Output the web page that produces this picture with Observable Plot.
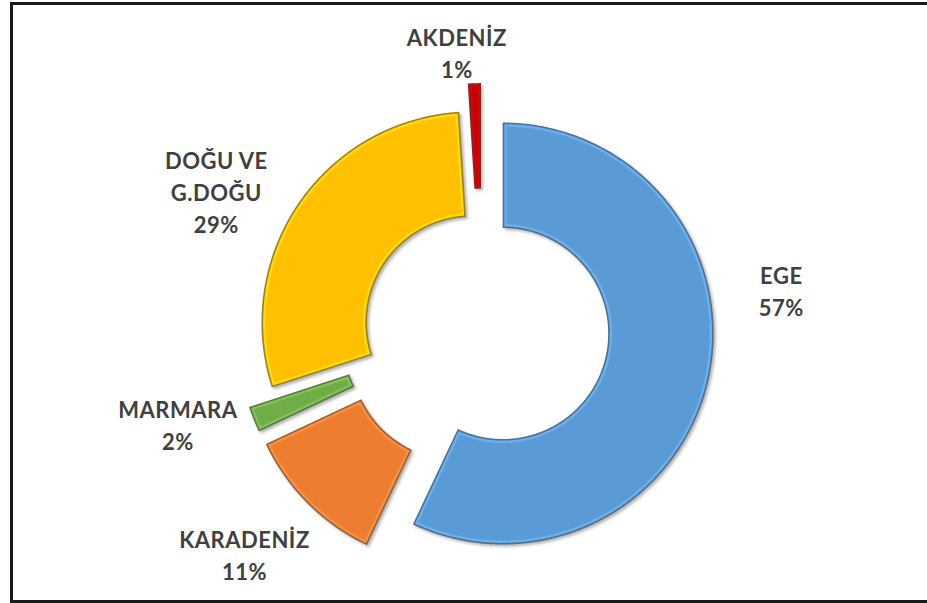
<!DOCTYPE html>
<html>
<head>
<meta charset="utf-8">
<script src="https://cdn.jsdelivr.net/npm/d3@7"></script>
<script src="https://cdn.jsdelivr.net/npm/@observablehq/plot@0.6"></script>
<style>
  html, body { margin: 0; padding: 0; background: #fff; overflow: hidden; }
  #wrap { position: relative; width: 927px; height: 603px; overflow: hidden; background: #fff; }
  .edge { position: absolute; background: #1a1a1a; pointer-events: none; }
  #edgeTop { left: 10px; top: 2px; width: 917px; height: 3px; }
  #edgeLeft { left: 10px; top: 2px; width: 3px; height: 601px; }
  #edgeBottom { left: 10px; top: 600px; width: 917px; height: 3px; }
  #chart { position: absolute; left: 0; top: 0; }
  #chart svg .slices path { filter: drop-shadow(2px 2px 1.5px rgba(0,0,0,0.3)); }
  #chart svg text { letter-spacing: 0.5px; }
</style>
</head>
<body>
<div id="wrap"><div id="chart"></div>
  <div class="edge" id="edgeTop"></div><div class="edge" id="edgeLeft"></div><div class="edge" id="edgeBottom"></div>
</div>
<script>
// ---- data ----
const regions = ["EGE", "KARADENİZ", "MARMARA", "DOĞU VE G.DOĞU", "AKDENİZ"];
const shares  = [57, 11, 2, 29, 1];
const labelNames = ["EGE", "KARADENİZ", "MARMARA", "DOĞU VE\nG.DOĞU", "AKDENİZ"];
const percentLabels = ["57%", "11%", "2%", "29%", "1%"];
const colors = ["#5B9BD5", "#ED7D31", "#70AD47", "#FFC000", "#C00000"];

// ---- layout (styling, not data) ----
const W = 927, H = 603;
const unitPx = 211;               // outer radius in pixels
const cx = 481.6, cy = 328.4;     // donut centre in pixels
const innerRatio = 0.5;
const explode = [0.10, 0.17, 0.165, 0.055, 0.165];         // offset along mid angle, in outer radii
const labelShift = [-20, 1.6, 4.3, -6.7, -3.4];             // degrees from slice mid angle
const labelDist  = [1.43, 1.55, 1.51, 1.42, 1.32];          // in outer radii

const pie = d3.pie().sort(null).value(d => d)(shares);

function slicePoints(i, inset) {
  const p = pie[i];
  const a0 = p.startAngle, a1 = p.endAngle, mid = (a0 + a1) / 2;
  const ox = explode[i] * Math.sin(mid), oy = -explode[i] * Math.cos(mid);
  const d = inset / unitPx;
  const Ro = 1 - d, Ri = innerRatio + d;
  const pts = [];
  const n = Math.max(4, Math.ceil((a1 - a0) / (Math.PI / 360)));
  const oa0 = a0 + d / Ro, oa1 = a1 - d / Ro;
  const ia0 = a0 + d / Ri, ia1 = a1 - d / Ri;
  for (let k = 0; k <= n; k++) {
    const a = oa0 + (oa1 - oa0) * k / n;
    pts.push({region: regions[i], x: ox + Ro * Math.sin(a), y: oy - Ro * Math.cos(a)});
  }
  for (let k = n; k >= 0; k--) {
    const a = ia0 + (ia1 - ia0) * k / n;
    pts.push({region: regions[i], x: ox + Ri * Math.sin(a), y: oy - Ri * Math.cos(a)});
  }
  return pts;
}

const outline = regions.flatMap((_, i) => slicePoints(i, 0));
const rim = regions.flatMap((_, i) => slicePoints(i, 1.6));
const body = regions.flatMap((_, i) => slicePoints(i, 4));

const labels = regions.map((reg, i) => {
  const p = pie[i];
  const mid = (p.startAngle + p.endAngle) / 2 + labelShift[i] * Math.PI / 180;
  return {
    region: reg,
    text: labelNames[i] + "\n" + percentLabels[i],
    x: labelDist[i] * Math.sin(mid),
    y: -labelDist[i] * Math.cos(mid)
  };
});

const edgeCol = regions.map((_, i) => d3.interpolateRgb(colors[i], "#4a4a4a")(0.55));
const rimCol = regions.map((_, i) => d3.color(colors[i]).brighter(0.35).formatHex());

const chart = Plot.plot({
  width: W,
  height: H,
  margin: 0,
  x: {domain: [-cx / unitPx, (W - cx) / unitPx], range: [0, W], axis: null},
  y: {domain: [-cy / unitPx, (H - cy) / unitPx], range: [0, H], axis: null},
  color: {domain: regions, range: colors},
  marks: [
    Plot.line(outline, {x: "x", y: "y", z: "region", curve: "linear-closed",
      fill: d => edgeCol[regions.indexOf(d.region)], stroke: "none", className: "slices"}),
    Plot.line(rim, {x: "x", y: "y", z: "region", curve: "linear-closed",
      fill: d => rimCol[regions.indexOf(d.region)], stroke: "none"}),
    Plot.line(body, {x: "x", y: "y", z: "region", curve: "linear-closed",
      fill: "region", stroke: "none"}),
    Plot.text(labels, {x: "x", y: "y", text: "text", lineAnchor: "middle", textAnchor: "middle",
      fontFamily: "Lato", fontWeight: 700, fontSize: 22, lineHeight: 1.45, fill: "#404040"})
  ]
});
document.getElementById("chart").appendChild(chart);
</script>
</body>
</html>
